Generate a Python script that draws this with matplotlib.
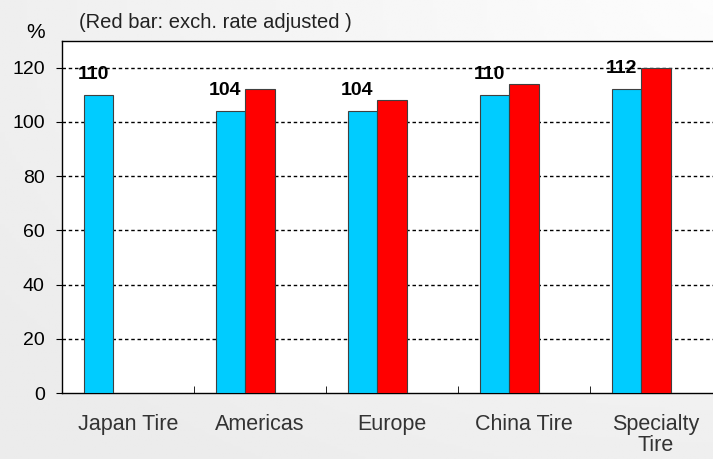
import numpy as np
import matplotlib
matplotlib.use('Agg')
from matplotlib import pyplot as plt

categories = ['Japan Tire', 'Americas', 'Europe', 'China Tire', 'Specialty\nTire']
blue_values = [110, 104, 104, 110, 112]
red_values = [None, 112, 108, 114, 120]
blue_labels = ['110', '104', '104', '110', '112']
yticks = [0, 20, 40, 60, 80, 100, 120]

plt.rcParams['font.family'] = ['Liberation Sans', 'DejaVu Sans']

fig = plt.figure(figsize=(7.13, 4.59), dpi=100)

# gray gradient background, lighter towards the upper right
bg = fig.add_axes([0, 0, 1, 1])
gx, gy = np.meshgrid(np.linspace(0, 1, 200), np.linspace(0, 1, 200))
dist = np.sqrt((1 - gx) ** 2 + (gy) ** 2)
shade = 0.99 - 0.065 * np.clip(dist / 1.2, 0, 1)
bg.imshow(shade, cmap='gray', vmin=0, vmax=1, aspect='auto', extent=[0, 1, 0, 1])
bg.axis('off')

ax = fig.add_axes([62 / 713, 1 - 393 / 459, 660 / 713, (393 - 40.7) / 459])
ax.set_facecolor('white')

x = np.arange(len(categories))
w = 0.222
# third (empty) series slot keeps the pair left of centre, like the original
ax.bar(x - 1.5 * w, blue_values, width=w, align='edge', color='#00CCFF',
       edgecolor='#404040', linewidth=0.8, zorder=3)
red_x = [xi for xi, v in zip(x, red_values) if v is not None]
red_v = [v for v in red_values if v is not None]
ax.bar(np.array(red_x) - 0.5 * w, red_v, width=w, align='edge', color='#FF0000',
       edgecolor='#404040', linewidth=0.8, zorder=3)

for i, (v, lab) in enumerate(zip(blue_values, blue_labels)):
    ax.text(x[i] - w - 0.04, v + 6, lab, ha='center', va='baseline',
            fontsize=14, fontweight='bold', zorder=4)

ax.set_xlim(-0.5, len(categories) - 0.5)
ax.set_ylim(0, 130)
ax.set_yticks(yticks)
ax.tick_params(axis='y', direction='out', length=4.5, labelsize=14, pad=8)
for t in yticks[1:]:
    ax.axhline(t, color='black', linewidth=1, linestyle=(0, (2.5, 2)), zorder=1)

ax.set_xticks(x)
ax.set_xticklabels(categories, fontsize=15.5, color='#333333', linespacing=1.0)
ax.tick_params(axis='x', which='major', length=0, pad=15)
ax.set_xticks(np.arange(0.5, len(categories) - 0.5, 1), minor=True)
ax.tick_params(axis='x', which='minor', direction='in', length=5)

for s in ['top', 'left', 'bottom']:
    ax.spines[s].set_color('black')
    ax.spines[s].set_linewidth(1)
ax.spines['right'].set_visible(False)

fig.text(26 / 713, 1 - 33 / 459, '%', fontsize=15, ha='left', va='center')
fig.text(79 / 713, 1 - 23 / 459, '(Red bar: exch. rate adjusted )', fontsize=14.5,
         ha='left', va='center', color='#222222')

fig.savefig('out.png', dpi=100)
